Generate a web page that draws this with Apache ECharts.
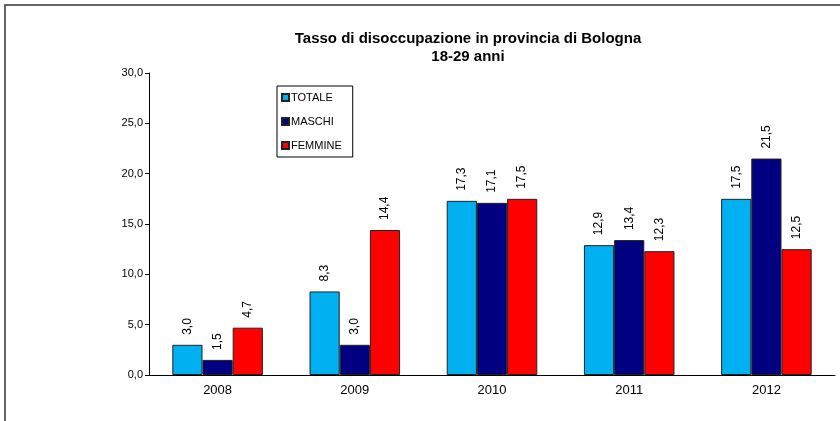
<!DOCTYPE html>
<html>
<head>
<meta charset="utf-8">
<script src="https://cdn.jsdelivr.net/npm/echarts@6/dist/echarts.min.js"></script>
<style>
  html, body { margin: 0; padding: 0; background: #fff; }
  #chart { width: 840px; height: 421px; }
</style>
</head>
<body>
<div id="chart"></div>
<script>
// anni (categorie)
const years = ['2008', '2009', '2010', '2011', '2012'];

// tassi di disoccupazione 18-29 anni
const totale = [3.0, 8.3, 17.3, 12.9, 17.5];
const maschi = [1.5, 3.0, 17.1, 13.4, 21.5];
const femmine = [4.7, 14.4, 17.5, 12.3, 12.5];

const seriesNames = ['TOTALE', 'MASCHI', 'FEMMINE'];
const seriesColors = ['#00B0F0', '#000080', '#FF0000'];

const fmt = v => v.toFixed(1).replace('.', ',');

const chart = echarts.init(document.getElementById('chart'), null, { renderer: 'canvas' });

const makeSeries = (name, data, color) => ({
  name: name,
  type: 'bar',
  data: data,
  barGap: '0%',
  barCategoryGap: '34%',
  itemStyle: { color: color, borderColor: '#222', borderWidth: 1 },
  label: {
    show: true,
    position: 'top',
    rotate: 90,
    align: 'left',
    verticalAlign: 'middle',
    distance: 10,
    fontFamily: 'Liberation Sans, Arial, sans-serif',
    fontSize: 12,
    color: '#000',
    formatter: p => fmt(p.value)
  }
});

const option = {
  animation: false,
  backgroundColor: '#fff',
  textStyle: { fontFamily: 'Liberation Sans, Arial, sans-serif' },
  graphic: [
    {
      type: 'rect',
      z: -1,
      shape: { x: 5, y: 5, width: 900, height: 500 },
      style: { fill: 'none', stroke: '#333', lineWidth: 1.5 }
    }
  ],
  title: {
    text: 'Tasso di disoccupazione in provincia di Bologna\n18-29 anni',
    left: 463,
    top: 25,
    textAlign: 'center',
    textStyle: {
      fontFamily: 'Liberation Sans, Arial, sans-serif',
      fontSize: 15,
      fontWeight: 'bold',
      lineHeight: 18,
      color: '#000'
    }
  },
  legend: {
    data: seriesNames,
    orient: 'vertical',
    left: 277,
    top: 86,
    itemWidth: 7,
    itemHeight: 7,
    itemGap: 13,
    padding: [6, 11, 6, 4],
    borderColor: '#000',
    borderWidth: 1,
    icon: 'rect',
    textStyle: {
      fontFamily: 'Liberation Sans, Arial, sans-serif',
      fontSize: 11,
      color: '#000',
      padding: [0, 0, 0, -3]
    }
  },
  grid: { left: 149, right: 5, top: 73, bottom: 46 },
  xAxis: {
    type: 'category',
    data: years,
    axisLine: { lineStyle: { color: '#000', width: 1 } },
    axisTick: { length: 5, lineStyle: { color: '#000' } },
    axisLabel: { fontSize: 13, color: '#000', margin: 9 }
  },
  yAxis: {
    type: 'value',
    min: 0,
    max: 30,
    interval: 5,
    splitLine: { show: false },
    axisLine: { show: true, lineStyle: { color: '#000', width: 1 } },
    axisTick: { show: true, length: 4, lineStyle: { color: '#000' } },
    axisLabel: { fontSize: 11, color: '#000', margin: 6, formatter: v => fmt(v) }
  },
  series: [
    makeSeries(seriesNames[0], totale, seriesColors[0]),
    makeSeries(seriesNames[1], maschi, seriesColors[1]),
    makeSeries(seriesNames[2], femmine, seriesColors[2])
  ]
};

chart.setOption(option);
</script>
</body>
</html>
